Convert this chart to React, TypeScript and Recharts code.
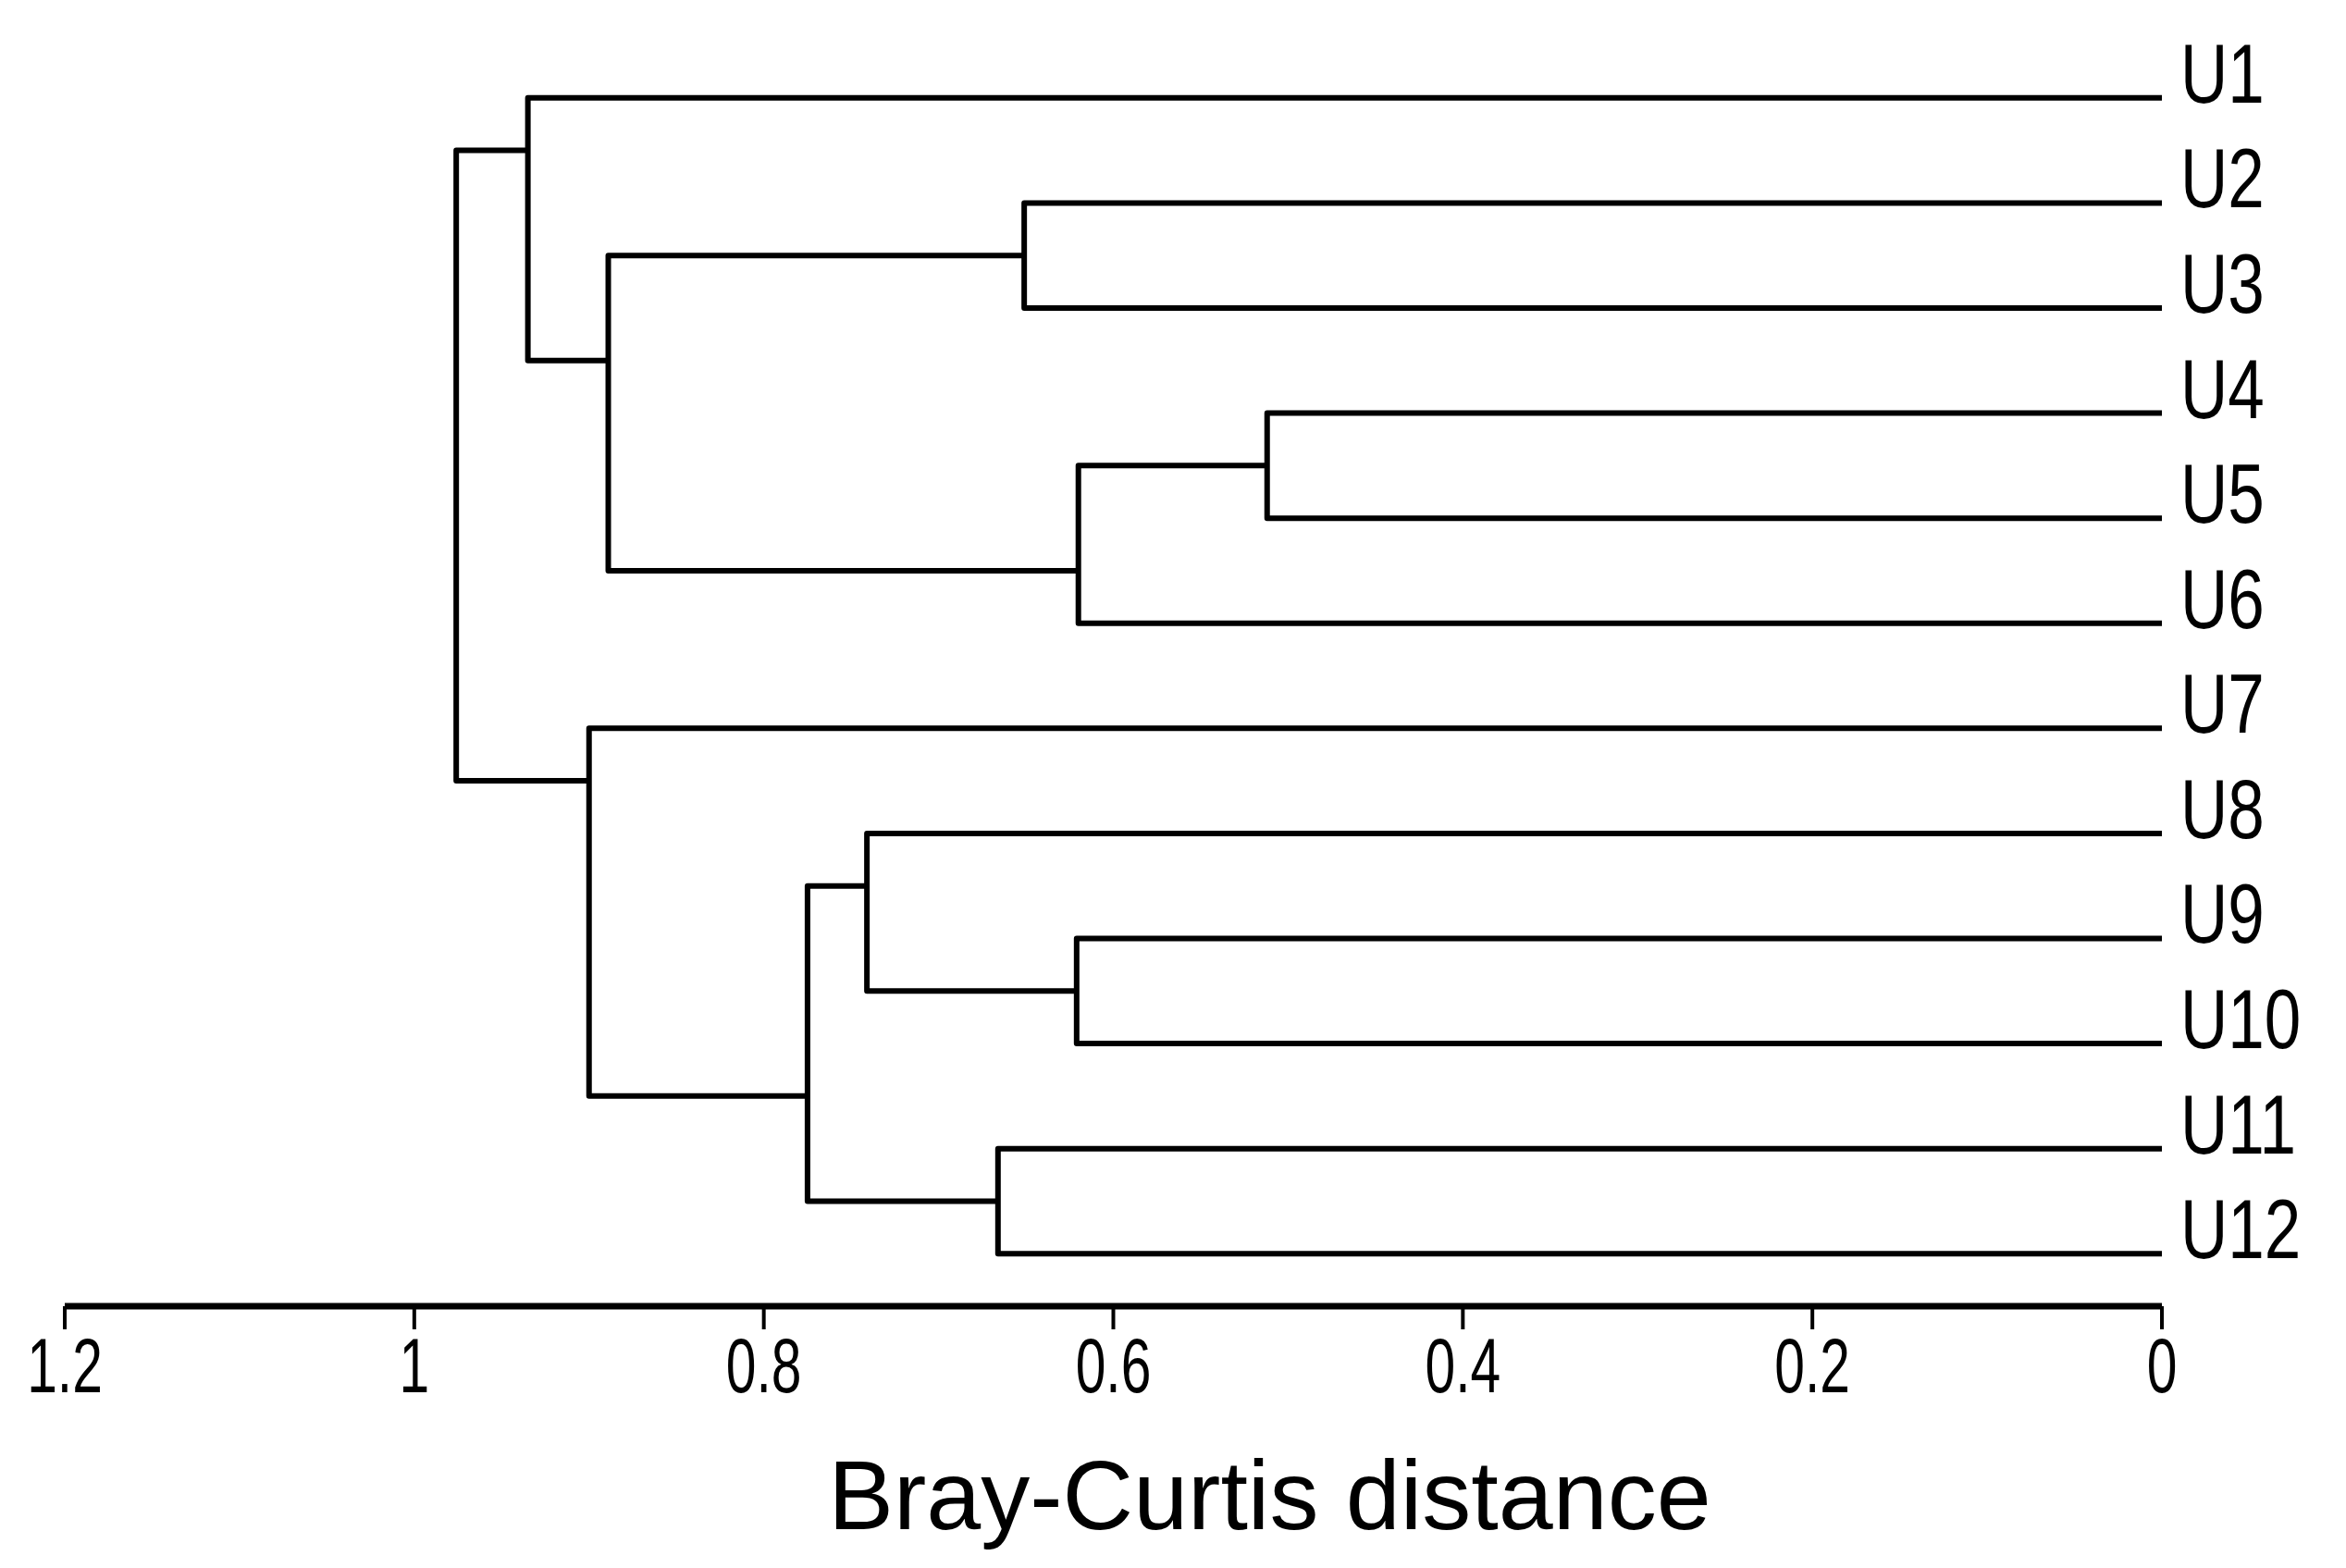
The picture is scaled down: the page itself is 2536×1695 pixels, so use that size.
import React from 'react';
import { ScatterChart, Scatter, XAxis, YAxis, Label } from 'recharts';

// leaves, top to bottom
const leafLabels = ['U1', 'U2', 'U3', 'U4', 'U5', 'U6', 'U7', 'U8', 'U9', 'U10', 'U11', 'U12'];

// merges in linkage style: ids < 12 are leaves, merge k gets id 12 + k
const mergeLeft = [3, 8, 12, 1, 10, 7, 17, 15, 6, 0, 21];
const mergeRight = [4, 9, 5, 2, 11, 13, 16, 14, 18, 19, 20];
const mergeHeight = [0.512, 0.621, 0.62, 0.651, 0.666, 0.741, 0.775, 0.889, 0.9, 0.935, 0.976];

const distanceTicks = [0, 0.2, 0.4, 0.6, 0.8, 1, 1.2];

const n = leafLabels.length;
const leafTicks = leafLabels.map((_, i) => i);

const heightOf = (id: number): number => (id < n ? 0 : mergeHeight[id - n]);

const spanOf = (id: number): [number, number] => {
  if (id < n) return [id, id];
  const k = id - n;
  return [spanOf(mergeLeft[k])[0], spanOf(mergeRight[k])[1]];
};

// a cluster is joined at the split between its two children
const posOf = (id: number): number => {
  if (id < n) return id;
  const k = id - n;
  return (spanOf(mergeLeft[k])[1] + spanOf(mergeRight[k])[0]) / 2;
};

const segments = mergeLeft.map((l, k) => {
  const r = mergeRight[k];
  const h = mergeHeight[k];
  return [
    { x: heightOf(l), y: posOf(l) },
    { x: h, y: posOf(l) },
    { x: h, y: posOf(r) },
    { x: heightOf(r), y: posOf(r) },
  ];
});

const FONT = '"Liberation Sans", Arial, sans-serif';

const DistanceTick = (props: any) => {
  const { x, y, payload } = props;
  return (
    <g transform={`translate(${x},${y})`}>
      <text x={0} y={0} dy={60} textAnchor="middle" transform="scale(0.7,1)" fontFamily={FONT} fontSize={84} fill="#000">
        {String(payload.value)}
      </text>
    </g>
  );
};

const LeafTick = (props: any) => {
  const { x, y, payload } = props;
  return (
    <g transform={`translate(${x},${y})`}>
      <text x={0} y={0} dy={5} textAnchor="start" transform="scale(0.78,1)" fontFamily={FONT} fontSize={91} fill="#000">
        {leafLabels[payload.value]}
      </text>
    </g>
  );
};

const renderTitle = (props: any) => {
  const vb = props.viewBox || {};
  return (
    <text x={vb.x + vb.width / 2 + 169} y={vb.y + 241} textAnchor="middle" fontFamily={FONT} fontSize={106} fill="#000">
      Bray-Curtis distance
    </text>
  );
};

const noPoint = () => <g />;

export default function App() {
  return (
    <div style={{ background: '#fff' }}>
      <ScatterChart width={2510} height={1670} margin={{ top: 41, right: 0, bottom: 0, left: 62 }}>
        <XAxis
          type="number"
          dataKey="x"
          domain={[0, 1.2]}
          reversed
          ticks={distanceTicks}
          interval={0}
          tickSize={25}
          tickMargin={8}
          height={266}
          axisLine={{ stroke: '#000', strokeWidth: 7 }}
          tickLine={{ stroke: '#000', strokeWidth: 4 }}
          tick={<DistanceTick />}
        >
          <Label content={renderTitle} />
        </XAxis>
        <YAxis
          type="number"
          dataKey="y"
          orientation="right"
          domain={[-0.5, 11.5]}
          reversed
          ticks={leafTicks}
          interval={0}
          width={181}
          axisLine={false}
          tickLine={false}
          tickSize={0}
          tickMargin={20}
          tick={<LeafTick />}
        />
        {segments.map((seg, i) => (
          <Scatter
            key={i}
            data={seg}
            shape={noPoint}
            line={{ stroke: '#000', strokeWidth: 6, strokeLinejoin: 'round' }}
            legendType="none"
            isAnimationActive={false}
          />
        ))}
      </ScatterChart>
    </div>
  );
}
